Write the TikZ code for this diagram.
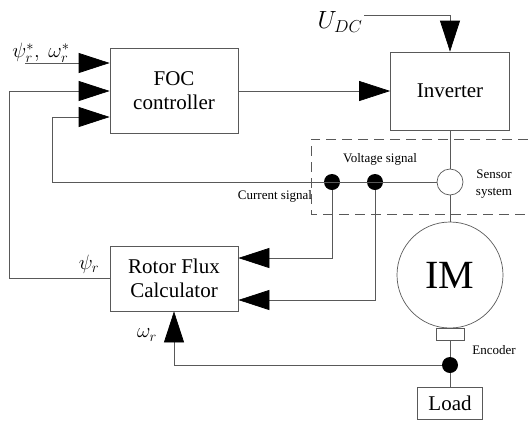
\documentclass[tikz,border=0pt]{standalone}
\usepackage{fontspec}
\setmainfont{Liberation Serif}
\usetikzlibrary{arrows.meta}
\tikzset{
	wire/.style={draw=black!65, line width=0.7pt},
	blk/.style={draw=black!65, line width=0.7pt, align=center,
		inner sep=0pt, font=\fontsize{21}{24}\selectfont},
	bigtip/.style={-{Triangle[length=31pt,width=20pt,color=black]}},
	tap/.style={circle, fill=black, inner sep=0pt, minimum size=16pt},
	lbl/.style={font=\fontsize{13}{15}\selectfont, align=center},
	sym/.style={font=\fontsize{21}{24}\selectfont}
}
\begin{document}
\begin{tikzpicture}[x=1pt, y=-1pt]
	\useasboundingbox (0,0) rectangle (528,424);
	% blocks
	\node[blk, minimum width=128pt, minimum height=85pt] (foc) at (174,91) {FOC\\controller};
	\node[blk, minimum width=119pt, minimum height=78pt] (inv) at (450,91) {Inverter};
	\node[blk, minimum width=128pt, minimum height=65pt] (rfc) at (174,278.5) {Rotor Flux\\Calculator};
	\node[blk, minimum width=65pt, minimum height=32pt] (load) at (450,403) {Load};
	% motor side
	\node[circle, draw=black!65, line width=0.7pt, minimum size=26pt] (sens) at (450,182) {};
	\node[circle, draw=black!65, line width=0.7pt, minimum size=106pt, inner sep=0pt,
		font=\fontsize{40}{44}\selectfont] (im) at (450,275) {IM};
	\node[draw=black!65, line width=0.7pt, minimum width=28pt, minimum height=12pt,
		inner sep=0pt, anchor=north] (enc) at (im.south) {};
	\node[tap] (d1) at (332,182) {};
	\node[tap] (d2) at (375,182) {};
	\node[tap] (d3) at (450,365) {};
	% sensor area
	\draw[black!65, line width=0.7pt, dash pattern=on 10pt off 6pt]
		(528,139) -- (311,139) -- (311,214) -- (528,214);
	% labels
	\node[sym] (ref) at (41,53) {$\psi_r^*,\ \omega_r^*$};
	\node[font=\fontsize{27}{30}\selectfont] (udcl) at (340,22) {$U_{DC}$};
	\node[sym] (psil) at (89,264) {$\psi_r$};
	\node[sym] (oml) at (147,335) {$\omega_r$};
	\node[lbl] (vs) at (380,159) {Voltage signal};
	\node[lbl] (cs) at (275,196) {Current signal};
	\node[lbl, font=\fontsize{13}{17}\selectfont] (ss) at (494,184) {Sensor\\system};
	\node[lbl] (encl) at (494,350) {Encoder};
	% connectors
	\coordinate (refin) at (25,63);
	\coordinate (udc) at (364,15);
	\draw[wire, bigtip] (refin) -- (refin -| foc.west);
	\draw[wire, bigtip] (udc) -| (inv.north);
	\draw[wire, bigtip] (foc.east) -- (inv.west);
	\draw[wire, bigtip] (rfc.west) -- (9,278.5) |- (foc.west);
	\draw[wire, bigtip] (sens.west) -- (52,182) |- (foc.west |- 0,117);
	\draw[wire, bigtip] (d1) |- (rfc.east |- 0,258);
	\draw[wire, bigtip] (d2) |- (rfc.east |- 0,300);
	\draw[wire] (inv.south) -- (sens.north);
	\draw[wire] (sens.south) -- (im.north);
	\draw[wire] (enc.south) -- (d3) -- (load.north);
	\draw[wire, bigtip] (d3) -| (rfc.south);
\end{tikzpicture}
\end{document}
